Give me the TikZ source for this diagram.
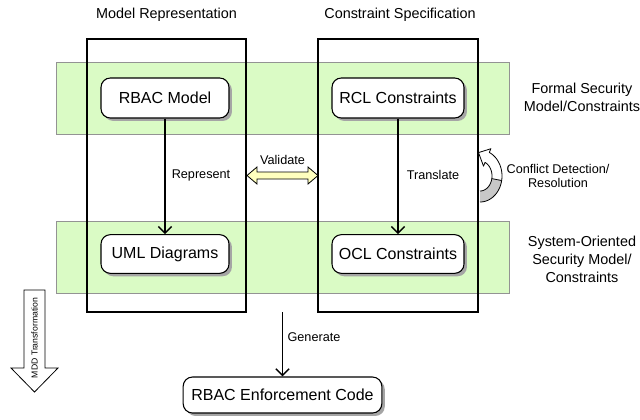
\documentclass[tikz,border=0pt]{standalone}
\usepackage{fontspec}
\setmainfont{Liberation Sans}
\usetikzlibrary{arrows.meta,shadows}
\definecolor{bandgreen}{RGB}{218,251,197}
\definecolor{valyellow}{RGB}{255,255,190}
\definecolor{shadowgray}{RGB}{165,165,165}
\definecolor{ribbongray}{RGB}{200,200,200}

\begin{document}
\begin{tikzpicture}[x=0.75pt,y=-0.75pt,
  band/.style={draw=gray!85, fill=bandgreen, line width=0.6pt},
  lane/.style={draw=black, line width=1.4pt},
  proc/.style={draw=black, fill=white, rounded corners=7pt, line width=0.8pt,
    font=\fontsize{12}{14}\selectfont,
    drop shadow={shadow xshift=2.2pt, shadow yshift=-2.2pt, fill=shadowgray, opacity=1}},
  head/.style={font=\fontsize{10.8}{13}\selectfont},
  side/.style={font=\fontsize{10.8}{13.5}\selectfont, align=center},
  lbl/.style={font=\fontsize{9.5}{11}\selectfont},
  flow/.style={-{Straight Barb[length=5pt,width=10pt]}, line width=1.1pt},
]
\useasboundingbox (0,0) rectangle (640,419);

% horizontal layers
\draw[band] (56,62) rectangle (509,134);
\draw[band] (56,221) rectangle (509,293);

% vertical columns
\draw[lane] (87,39) rectangle (246,312);
\draw[lane] (318,39) rectangle (478,312);

% column headings
\node[head] (hdrL) at (166.5,15) {Model Representation};
\node[head] (hdrR) at (400,15) {Constraint Specification};

% process boxes
\node[proc, minimum width=96pt, minimum height=30pt] (rbac) at (165,98) {RBAC Model};
\node[proc, minimum width=96pt, minimum height=29pt] (uml) at (165,254) {UML Diagrams};
\node[proc, minimum width=99pt, minimum height=30pt] (rcl) at (398,98) {RCL Constraints};
\node[proc, minimum width=99pt, minimum height=29pt] (ocl) at (398,254) {OCL Constraints};
\node[proc, minimum width=149pt, minimum height=27pt] (enf) at (282.5,395) {RBAC Enforcement Code};

% connectors
\coordinate (gen) at (282.5,312);
\draw[flow] (rbac) -- (uml);
\draw[flow] (rcl) -- (ocl);
\draw[flow] (gen) -- (enf);

\node[lbl] (lrep) at (201,175) {Represent};
\node[lbl] (ltr) at (433,175) {Translate};
\node[lbl] (lgen) at (314,337) {Generate};
\node[lbl] (lval) at (282.5,160) {Validate};

% two-headed block arrow between the columns
\draw[fill=valyellow, line width=0.6pt]
  (247,175.5) -- (257,167) -- (257,172) -- (308,172) -- (308,167) -- (318,175.5)
  -- (308,184) -- (308,179) -- (257,179) -- (257,184) -- cycle;

% layer captions
\node[side] (sformal) at (582,97) {Formal Security\\Model/Constraints};
\node[side] (ssys) at (582,259) {System-Oriented\\Security Model/\\Constraints};
\node[font=\fontsize{9.5}{10.5}\selectfont, align=center] (conf) at (558,176) {Conflict Detection/\\Resolution};

% curved feedback arrow on the right column
\fill[ribbongray] plot[domain=90:10, samples=30] ({480+22*cos(\x)},{176+26*sin(\x)})
  -- plot[domain=10:90, samples=30] ({480+12*cos(\x)},{176+15*sin(\x)}) -- cycle;
\fill[white] plot[domain=10:-65, samples=40] ({480+22*cos(\x)},{176+26*sin(\x)})
  -- (490.9,148.7) -- (478.5,152.6) -- (483.5,166.1)
  -- plot[domain=-65:10, samples=40] ({480+12*cos(\x)},{176+15*sin(\x)}) -- cycle;
\draw[line width=0.6pt, line join=round]
  plot[domain=90:-65, samples=60] ({480+22*cos(\x)},{176+26*sin(\x)})
  -- (490.9,148.7) -- (478.5,152.6) -- (483.5,166.1)
  -- plot[domain=-65:90, samples=60] ({480+12*cos(\x)},{176+15*sin(\x)});
\draw[line width=0.6pt] ({480+12*cos(10)},{176+15*sin(10)}) -- ({480+22*cos(10)},{176+26*sin(10)});

% transformation direction arrow
\draw[fill=white, line width=0.6pt]
  (24,290) -- (45,290) -- (45,368) -- (58,368) -- (34.5,392) -- (11,368) -- (24,368) -- cycle;
\node[rotate=90, font=\fontsize{6.5}{7}\selectfont] (mdd) at (34.5,338) {MDD Transformation};

\end{tikzpicture}
\end{document}
